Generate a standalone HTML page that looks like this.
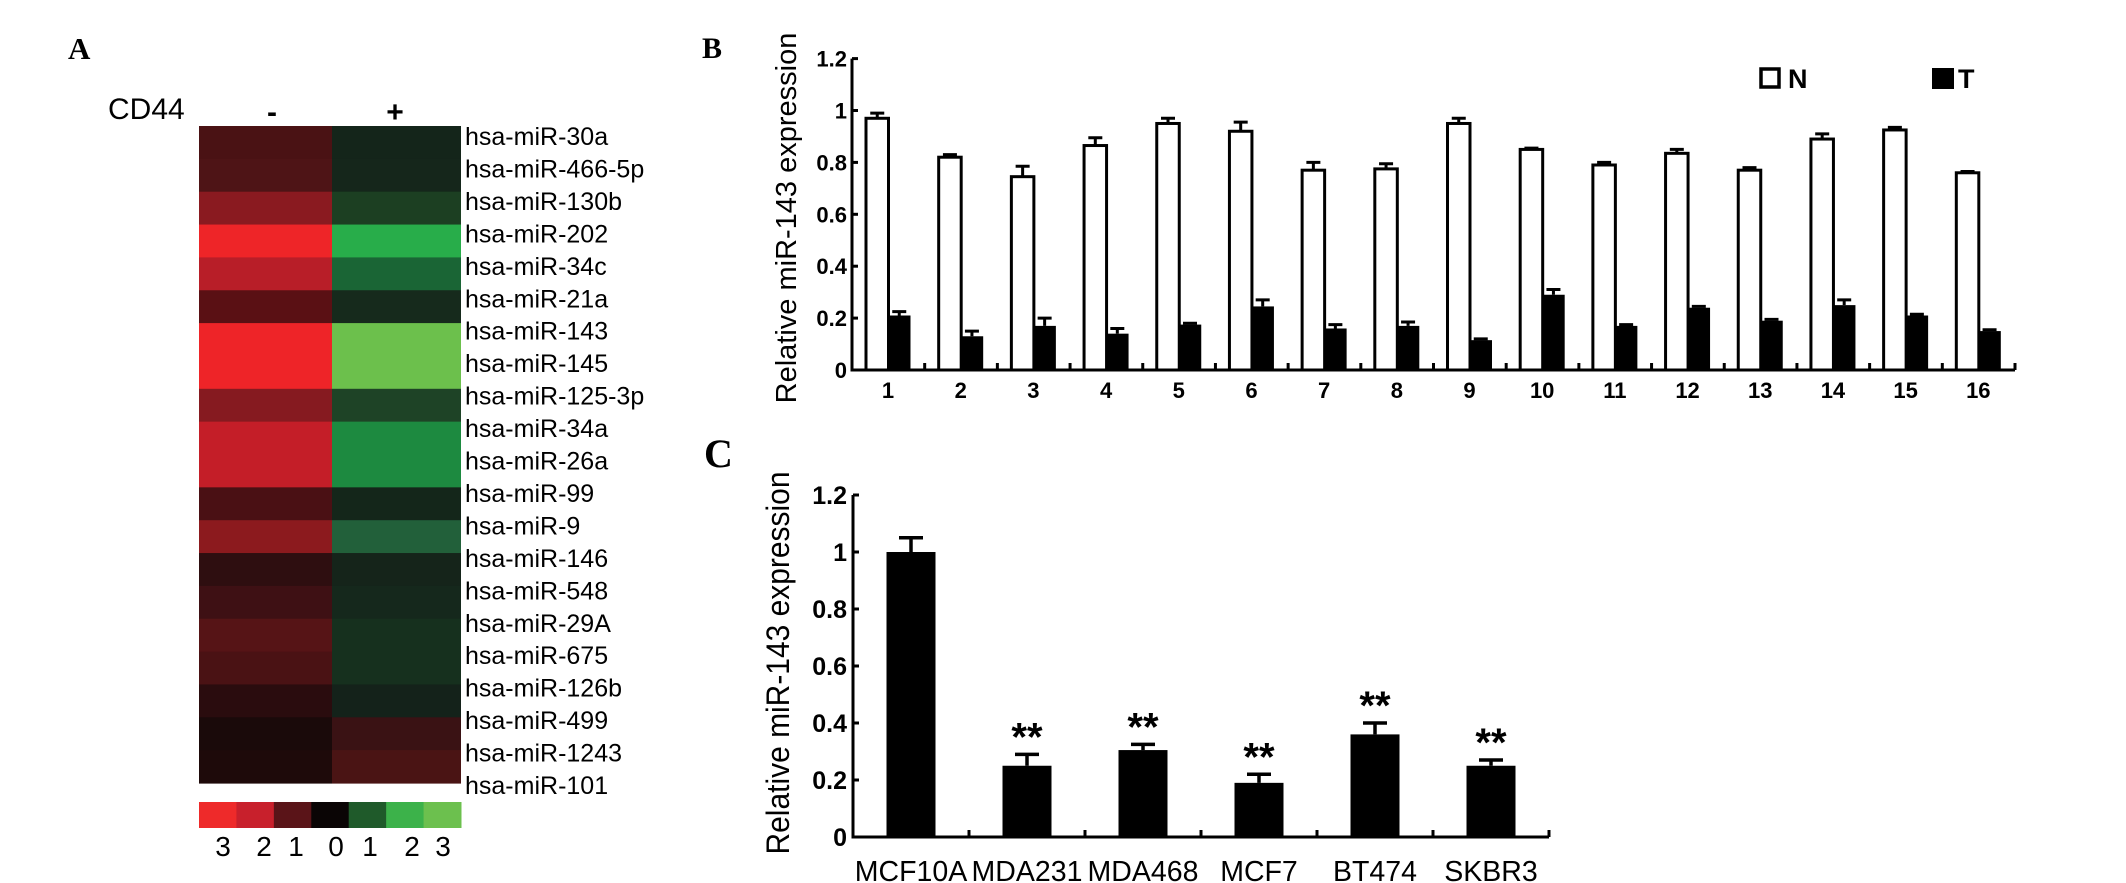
<!DOCTYPE html>
<html><head><meta charset="utf-8"><style>
html,body{margin:0;padding:0;background:#fff;}
svg{display:block;}
text{font-family:"Liberation Sans",Arial,sans-serif;}
text.serif{font-family:"Liberation Serif","Times New Roman",serif;}
</style></head><body>
<svg id="fig" width="2126" height="883" viewBox="0 0 2126 883" xmlns="http://www.w3.org/2000/svg">
<g id="panelA"></g>
<g id="panelB"></g>
<g id="panelC"></g>
</svg>
<script>
// ---------- Panel A data ----------
const miRNames = ["hsa-miR-30a","hsa-miR-466-5p","hsa-miR-130b","hsa-miR-202","hsa-miR-34c","hsa-miR-21a","hsa-miR-143","hsa-miR-145","hsa-miR-125-3p","hsa-miR-34a","hsa-miR-26a","hsa-miR-99","hsa-miR-9","hsa-miR-146","hsa-miR-548","hsa-miR-29A","hsa-miR-675","hsa-miR-126b","hsa-miR-499","hsa-miR-1243","hsa-miR-101"];
const cd44NegColors = ["#4a1214","#4e1416","#8a1a20","#ee2528","#b81e28","#5a1014","#ee2428","#ee2428","#861a20","#c41e28","#c41e28","#4a1014","#8c1a1e","#2e0e10","#3e1014","#561416","#4a1214","#2a0c0e","#1a0a0a","#1e0a0a"];
const cd44PosColors = ["#14251a","#15261b","#1c3f22","#28ad4a","#1a6535","#162a1c","#6cc04c","#6cc04c","#1e4326","#1d8a40","#1d8a40","#14261a","#22603a","#15241a","#15281c","#16301e","#16301e","#14221a","#3a1214","#4a1414"];
const scaleColors = ["#ee2a2a","#c8202c","#5a1418","#0a0505","#1f5a2a","#3cb24a","#6cc04e"];
const scaleLabels = ["3","2","1","0","1","2","3"];
// ---------- Panel B data ----------
const sampleLabels = ["1","2","3","4","5","6","7","8","9","10","11","12","13","14","15","16"];
const normalVals = [0.97,0.82,0.745,0.865,0.95,0.92,0.77,0.775,0.95,0.85,0.79,0.835,0.77,0.89,0.925,0.76];
const normalErr = [0.02,0.01,0.04,0.03,0.02,0.035,0.03,0.02,0.02,0.005,0.01,0.015,0.01,0.02,0.01,0.005];
const tumorVals = [0.21,0.13,0.17,0.14,0.175,0.245,0.16,0.17,0.115,0.29,0.17,0.24,0.19,0.25,0.21,0.15];
const tumorErr = [0.015,0.02,0.03,0.02,0.005,0.025,0.015,0.015,0.005,0.02,0.005,0.005,0.005,0.02,0.005,0.005];
const yTicksB = [0,0.2,0.4,0.6,0.8,1,1.2];
const yTickLabelsB = ["0","0.2","0.4","0.6","0.8","1","1.2"];
// ---------- Panel C data ----------
const cellLines = ["MCF10A","MDA231","MDA468","MCF7","BT474","SKBR3"];
const cellVals = [1.0,0.25,0.305,0.19,0.36,0.25];
const cellErr = [0.05,0.04,0.02,0.03,0.04,0.02];
const cellSig = ["","**","**","**","**","**"];
const yTicksC = [0,0.2,0.4,0.6,0.8,1,1.2];
const yTickLabelsC = ["0","0.2","0.4","0.6","0.8","1","1.2"];

const NS="http://www.w3.org/2000/svg";
function mk(parent,tag,attrs,txt){const e=document.createElementNS(NS,tag);for(const k in attrs)e.setAttribute(k,attrs[k]);if(txt!==undefined)e.textContent=txt;parent.appendChild(e);return e;}

// ===== Panel A =====
(function(){
const g=document.getElementById('panelA');
let t=mk(g,'text',{x:68,y:59,'class':'serif','font-weight':'bold','font-size':31},'A');


t=mk(g,'text',{x:108,y:119,'font-size':30},'CD44');


t=mk(g,'text',{x:272,y:122,'font-size':30,'font-weight':'bold','text-anchor':'middle'},'-');


t=mk(g,'text',{x:395,y:122,'font-size':30,'font-weight':'bold','text-anchor':'middle'},'+');


const top=126,bot=783,x0=199,xm=332,x1=461;
const rh=(bot-top)/cd44NegColors.length;
cd44NegColors.forEach((c,i)=>{
  const r=mk(g,'rect',{x:x0,y:top+i*rh,width:xm-x0,height:rh+0.6,fill:c});
  
  
});
cd44PosColors.forEach((c,i)=>{
  const r=mk(g,'rect',{x:xm,y:top+i*rh,width:x1-xm,height:rh+0.6,fill:c});
  
  
});
const ls=(bot+2-136)/(miRNames.length-1);
miRNames.forEach((n,i)=>{
  const e=mk(g,'text',{x:465,y:136+i*ls+9,'font-size':25},n);
  
  
});
const bw=(x1-x0)/scaleColors.length;
scaleColors.forEach((c,i)=>{
  const r=mk(g,'rect',{x:x0+i*bw,y:802,width:bw+0.5,height:26,fill:c});
  
  
});
const lx=[223,264,296,336,370,412,443];
scaleLabels.forEach((l,i)=>{
  const e=mk(g,'text',{x:lx[i],y:856,'font-size':28,'text-anchor':'middle'},l);
  
  
});
})();

// ===== Panel B =====
(function(){
const g=document.getElementById('panelB');
const ax=852, axEnd=2015, y0=370, perUnit=259.5;
const gw=(axEnd-ax)/sampleLabels.length;
const Y=v=>y0-v*perUnit;
let t=mk(g,'text',{x:702,y:58,'class':'serif','font-weight':'bold','font-size':30},'B');


t=mk(g,'text',{x:0,y:0,'font-size':29,'text-anchor':'middle',transform:'translate(796,218) rotate(-90)'},'Relative miR-143 expression');


sampleLabels.forEach((s,i)=>{
  const gx=ax+i*gw;
  const nx=gx+14, tx=gx+36, bw=22.5;
  let r=mk(g,'rect',{x:nx,y:Y(normalVals[i]),width:bw,height:y0-Y(normalVals[i]),fill:'#fff',stroke:'#000','stroke-width':3});
  
  
  let e=mk(g,'path',{d:`M${nx+bw/2},${Y(normalVals[i])} V${Y(normalVals[i]+normalErr[i])} M${nx+bw/2-7},${Y(normalVals[i]+normalErr[i])} H${nx+bw/2+7}`,stroke:'#000','stroke-width':3,fill:'none'});
  
  
  r=mk(g,'rect',{x:tx,y:Y(tumorVals[i]),width:bw,height:y0-Y(tumorVals[i]),fill:'#000'});
  
  
  e=mk(g,'path',{d:`M${tx+bw/2},${Y(tumorVals[i])} V${Y(tumorVals[i]+tumorErr[i])} M${tx+bw/2-7},${Y(tumorVals[i]+tumorErr[i])} H${tx+bw/2+7}`,stroke:'#000','stroke-width':3,fill:'none'});
  
  
  const lb=mk(g,'text',{x:gx+36,y:398,'font-size':22,'font-weight':'bold','text-anchor':'middle'},s);
  
  
  const tk=mk(g,'line',{x1:gx+gw,y1:y0,x2:gx+gw,y2:y0-7,stroke:'#000','stroke-width':3});
  
  
});
let a=mk(g,'path',{d:`M${ax},${Y(1.2)} V${y0} H${axEnd}`,stroke:'#000','stroke-width':3,fill:'none'});


yTicksB.forEach((v,i)=>{
  const tk=mk(g,'line',{x1:ax,y1:Y(v),x2:ax+6,y2:Y(v),stroke:'#000','stroke-width':3});
  
  
  const l=mk(g,'text',{x:847,y:Y(v)+8,'font-size':22,'font-weight':'bold','text-anchor':'end'},yTickLabelsB[i]);
  
  
});
let lr=mk(g,'rect',{x:1761,y:69,width:18,height:18,fill:'#fff',stroke:'#000','stroke-width':3.5});


let lt=mk(g,'text',{x:1788,y:88,'font-size':27,'font-weight':'bold'},'N');


lr=mk(g,'rect',{x:1932,y:68,width:22,height:21,fill:'#000'});


lt=mk(g,'text',{x:1958,y:88,'font-size':27,'font-weight':'bold'},'T');


})();

// ===== Panel C =====
(function(){
const g=document.getElementById('panelC');
const ax=853, axEnd=1549, y0=837, perUnit=285;
const gw=(axEnd-ax)/cellLines.length;
const Y=v=>y0-v*perUnit;
let t=mk(g,'text',{x:704,y:467,'class':'serif','font-weight':'bold','font-size':40},'C');


t=mk(g,'text',{x:0,y:0,'font-size':32,'text-anchor':'middle',textLength:383,lengthAdjust:'spacingAndGlyphs',transform:'translate(789,663) rotate(-90)'},'Relative miR-143 expression');


cellLines.forEach((c,i)=>{
  const cx=ax+(i+0.5)*gw, bw=49;
  const r=mk(g,'rect',{x:cx-bw/2,y:Y(cellVals[i]),width:bw,height:y0-Y(cellVals[i]),fill:'#000'});
  
  
  const top=Y(cellVals[i]+cellErr[i]);
  const e=mk(g,'path',{d:`M${cx},${Y(cellVals[i])} V${top} M${cx-12},${top} H${cx+12}`,stroke:'#000','stroke-width':3.5,fill:'none'});
  
  
  if(cellSig[i]){
    const s=mk(g,'text',{x:cx,y:top-4,'font-size':40,'font-weight':'bold','text-anchor':'middle'},cellSig[i]);
    
    
  }
  const l=mk(g,'text',{x:cx,y:881,'font-size':28.5,'text-anchor':'middle'},c);
  
  
  const tk=mk(g,'line',{x1:ax+(i+1)*gw,y1:y0,x2:ax+(i+1)*gw,y2:y0-7,stroke:'#000','stroke-width':3});
  
  
});
let a=mk(g,'path',{d:`M${ax},${Y(1.2)} V${y0} H${axEnd}`,stroke:'#000','stroke-width':3,fill:'none'});


yTicksC.forEach((v,i)=>{
  const tk=mk(g,'line',{x1:ax,y1:Y(v),x2:ax+6,y2:Y(v),stroke:'#000','stroke-width':3});
  
  
  const l=mk(g,'text',{x:847,y:Y(v)+9,'font-size':25,'font-weight':'bold','text-anchor':'end'},yTickLabelsC[i]);
  
  
});
})();
</script>
</body></html>
